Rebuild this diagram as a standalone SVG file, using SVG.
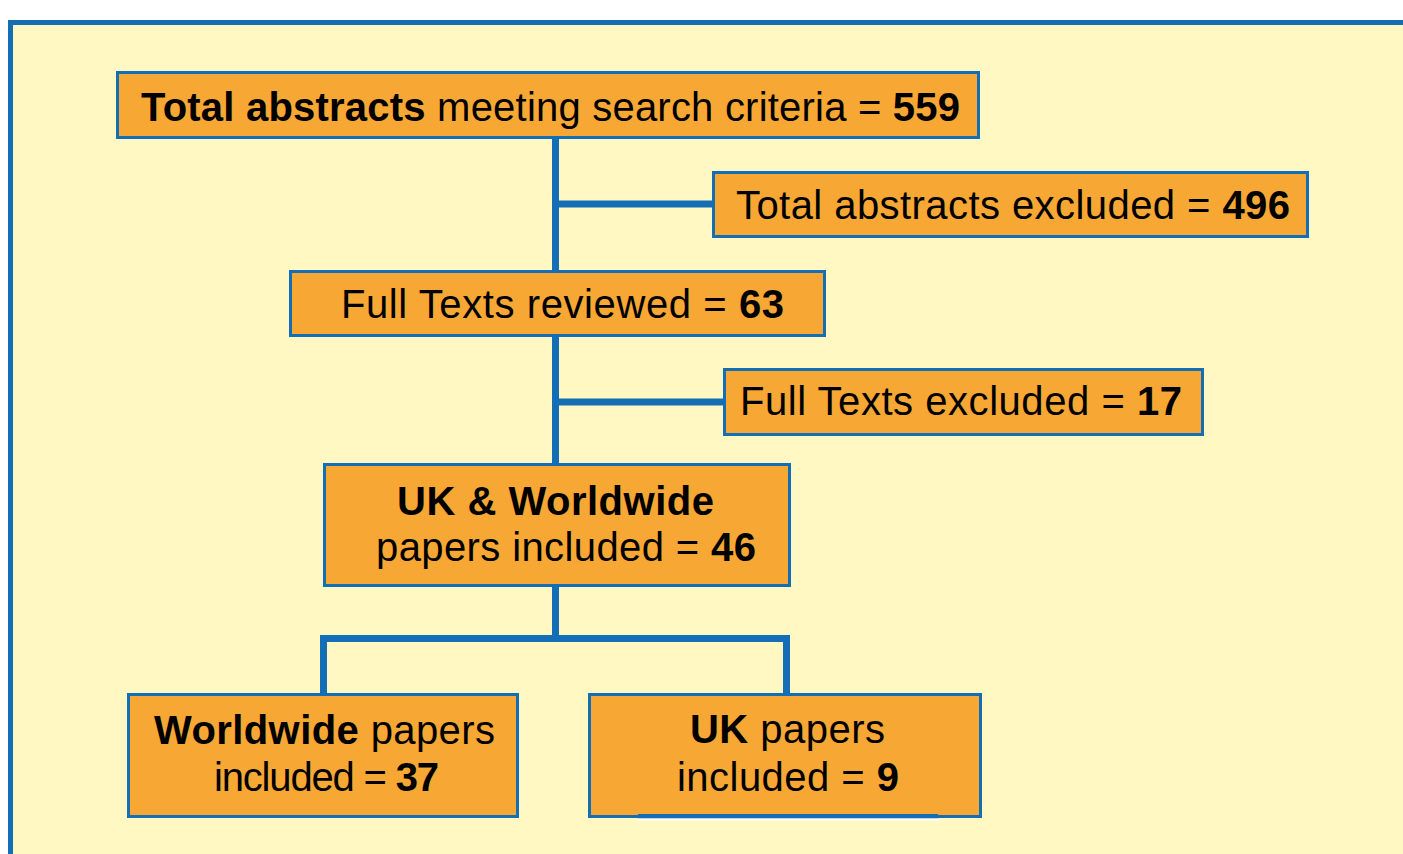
<svg xmlns="http://www.w3.org/2000/svg" width="1403" height="854" viewBox="0 0 1403 854">
  <style>
    .node rect.box { fill: #F7A734; stroke: #136EB6; stroke-width: 3; }
    .label { font-family: "Liberation Sans", Arial, Helvetica, sans-serif; font-size: 40px; fill: #000; }
    .b { font-weight: bold; }
    .wire { fill: none; stroke: #136EB6; stroke-width: 7; stroke-linecap: butt; stroke-linejoin: miter; }
  </style>

  <!-- page and framed panel -->
  <rect x="0" y="0" width="1403" height="854" fill="#FFFFFF"/>
  <rect x="10.5" y="22.5" width="1500" height="900" fill="#FFF8C3" stroke="#136EB6" stroke-width="5"/>

  <!-- connectors -->
  <g id="connectors">
    <path class="wire" d="M555.5,139 V270"/>
    <path class="wire" d="M555.5,204 H712" stroke-width="6.5"/>
    <path class="wire" d="M555.5,337 V463"/>
    <path class="wire" d="M555.5,402 H723" stroke-width="6.5"/>
    <path class="wire" d="M555.5,587 V638"/>
    <path class="wire" d="M323.5,693 V638.5 H786.5 V693"/>
  </g>

  <g id="total-abstracts" class="node">
    <rect class="box" x="117.5" y="72.5" width="861" height="65"/>
    <text class="label" x="141" y="121" textLength="819" lengthAdjust="spacing"><tspan class="b">Total abstracts</tspan> meeting search criteria = <tspan class="b">559</tspan></text>
  </g>

  <g id="abstracts-excluded" class="node">
    <rect class="box" x="713.5" y="172.5" width="594" height="64"/>
    <text class="label" x="736" y="219" textLength="554" lengthAdjust="spacing">Total abstracts excluded = <tspan class="b">496</tspan></text>
  </g>

  <g id="full-texts-reviewed" class="node">
    <rect class="box" x="290.5" y="271.5" width="534" height="64"/>
    <text class="label" x="341" y="318" textLength="443" lengthAdjust="spacing">Full Texts reviewed = <tspan class="b">63</tspan></text>
  </g>

  <g id="full-texts-excluded" class="node">
    <rect class="box" x="724.5" y="369.5" width="478" height="65"/>
    <text class="label" x="740" y="415" textLength="442" lengthAdjust="spacing">Full Texts excluded = <tspan class="b">17</tspan></text>
  </g>

  <g id="uk-worldwide" class="node">
    <rect class="box" x="324.5" y="464.5" width="465" height="121"/>
    <text class="label b" x="397" y="515" textLength="317" lengthAdjust="spacing">UK &amp; Worldwide</text>
    <text class="label" x="376" y="561" textLength="380" lengthAdjust="spacing">papers included = <tspan class="b">46</tspan></text>
  </g>

  <g id="worldwide" class="node">
    <rect class="box" x="128.5" y="694.5" width="389" height="122"/>
    <text class="label" x="154" y="744" textLength="341" lengthAdjust="spacing"><tspan class="b">Worldwide</tspan> papers</text>
    <text class="label" x="214" y="791" textLength="225" lengthAdjust="spacing">included = <tspan class="b">37</tspan></text>
  </g>

  <g id="uk" class="node">
    <rect class="box" x="589.5" y="694.5" width="391" height="122"/>
    <text class="label" x="690" y="743" textLength="195" lengthAdjust="spacing"><tspan class="b">UK</tspan> papers</text>
    <text class="label" x="677" y="791" textLength="222" lengthAdjust="spacing">included = <tspan class="b">9</tspan></text>
    <!-- heavier underline segment on the lower edge -->
    <rect x="638" y="814" width="300" height="4.5" fill="#136EB6"/>
    <rect x="638" y="818.5" width="300" height="2" fill="#FFFFFF"/>
  </g>
</svg>
